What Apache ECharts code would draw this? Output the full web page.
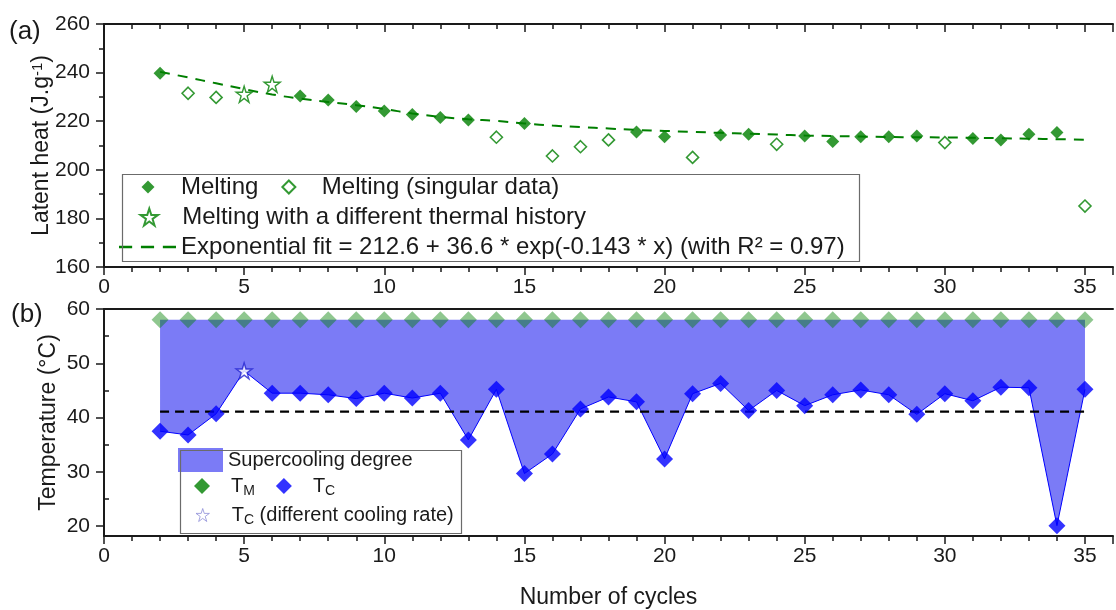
<!DOCTYPE html>
<html>
<head>
<meta charset="utf-8">
<script src="https://cdn.jsdelivr.net/npm/echarts@6/dist/echarts.min.js"></script>
<style>
  html, body { margin: 0; padding: 0; background: #fff; }
  #chart { width: 1116px; height: 610px; }
</style>
</head>
<body>
<div id="chart"></div>
<script>
// (a) latent heat
const meltX = [2, 7, 8, 9, 10, 11, 12, 13, 15, 19, 20, 22, 23, 25, 26, 27, 28, 29, 31, 32, 33, 34]
const meltY = [239.7, 230.4, 228.7, 226.0, 224.2, 222.8, 221.5, 220.5, 219.1, 215.6, 213.6, 214.3, 214.6, 213.9, 211.6, 213.6, 213.6, 213.9, 212.9, 212.3, 214.6, 215.4]
const singX = [3, 4, 14, 16, 17, 18, 21, 24, 30, 35]
const singY = [231.5, 229.8, 213.4, 205.7, 209.5, 212.3, 205.1, 210.5, 211.2, 185.1]
const thermX = [5, 6]
const thermY = [231.1, 235.2]
const fitX = [2, 3, 4, 5, 6, 7, 8, 9, 10, 11, 12, 13, 14, 15, 16, 17, 18, 19, 20, 21, 22, 23, 24, 25, 26, 27, 28, 29, 30, 31, 32, 33, 34, 35]
const fitY = [240.3, 238.0, 235.6, 233.2, 231.0, 229.3, 227.9, 226.6, 225.0, 223.2, 221.8, 220.8, 220.1, 219.1, 218.2, 217.6, 217.0, 216.4, 216.0, 215.6, 215.2, 214.9, 214.5, 214.1, 213.9, 213.7, 213.5, 213.4, 213.3, 213.2, 213.0, 212.8, 212.6, 212.4]

// (b) temperatures
const cycles = [2, 3, 4, 5, 6, 7, 8, 9, 10, 11, 12, 13, 14, 15, 16, 17, 18, 19, 20, 21, 22, 23, 24, 25, 26, 27, 28, 29, 30, 31, 32, 33, 34, 35]
const tmValues = [58, 58, 58, 58, 58, 58, 58, 58, 58, 58, 58, 58, 58, 58, 58, 58, 58, 58, 58, 58, 58, 58, 58, 58, 58, 58, 58, 58, 58, 58, 58, 58, 58, 58]
const tcValues = [37.5, 36.8, 40.7, 48.6, 44.5, 44.5, 44.2, 43.5, 44.5, 43.6, 44.5, 35.9, 45.2, 29.7, 33.3, 41.6, 43.8, 42.9, 32.4, 44.4, 46.3, 41.3, 45.0, 42.2, 44.2, 45.1, 44.2, 40.6, 44.4, 43.1, 45.6, 45.5, 20.1, 45.2]
const starCycle = 5 // T_C measured with a different cooling rate
const avgX = [2, 35]
const avgY = [41.1, 41.1]

// tick labels
const xTicks = [0, 5, 10, 15, 20, 25, 30, 35]
const tTicks = [20, 30, 40, 50, 60]
const tMinorTicks = [25, 35, 45, 55]

const green = '#007f00'
const blue = '#0000ff'
const fillBlue = '#7b7bf6'
const ink = '#1a1a1a'
const starPath = 'path://M50,2 L61,37 L98,37 L68,59 L79,95 L50,73 L21,95 L32,59 L2,37 L39,37 Z'
const diamondPath = 'path://M50,0 L100,50 L50,100 L0,50 Z'
const dashPath = 'path://M0,0 h12 v2.2 h-12 Z M20,0 h12 v2.2 h-12 Z M40,0 h12 v2.2 h-12 Z'

const pairs = (xs, ys) => xs.map((x, i) => [x, ys[i]])
const tcLine = pairs(cycles, tcValues)
const tcDiamonds = tcLine.filter(p => p[0] !== starCycle)
const tcStar = tcLine.filter(p => p[0] === starCycle)

const chart = echarts.init(document.getElementById('chart'))

const xLabel = { fontSize: 21, color: ink, margin: 10, formatter: v => (xTicks.includes(v) ? String(v) : '') }
const axisLine = { lineStyle: { color: ink, width: 2 } }
const subRich = { sub: { fontSize: 14, verticalAlign: 'bottom', padding: [10, 0, 0, 0], color: ink } }

chart.setOption({
  animation: false,
  textStyle: { fontFamily: 'Liberation Sans, Arial, sans-serif', color: ink },
  grid: [
    { left: 104, top: 24, width: 1022, height: 243 },
    { left: 104, top: 309, width: 1022, height: 230 }
  ],
  xAxis: [
    {
      gridIndex: 0, type: 'value', min: 0, max: 36, interval: 5, position: 'bottom',
      axisLine, axisTick: { length: 8, lineStyle: { color: ink, width: 1.5 } },
      minorTick: { show: true, splitNumber: 5, length: 5, lineStyle: { color: ink, width: 1.5 } },
      axisLabel: xLabel, splitLine: { show: false }
    },
    {
      gridIndex: 0, type: 'value', min: 0, max: 36, interval: 5, position: 'top',
      axisLine, axisTick: { inside: true, length: 8, lineStyle: { color: ink, width: 1.5 } },
      minorTick: { show: true, splitNumber: 5, length: 5, lineStyle: { color: ink, width: 1.5 } },
      axisLabel: { show: false }, splitLine: { show: false }
    },
    {
      gridIndex: 1, type: 'value', min: 0, max: 36, interval: 5, position: 'bottom',
      axisLine, axisTick: { length: 8, lineStyle: { color: ink, width: 1.5 } },
      minorTick: { show: true, splitNumber: 5, length: 5, lineStyle: { color: ink, width: 1.5 } },
      axisLabel: xLabel, splitLine: { show: false },
      name: 'Number of cycles', nameLocation: 'middle', nameGap: 50,
      nameTextStyle: { fontSize: 23, color: ink }
    },
    {
      gridIndex: 1, type: 'value', min: 0, max: 36, interval: 5, position: 'top',
      axisLine, axisTick: { show: false }, axisLabel: { show: false }, splitLine: { show: false }
    }
  ],
  yAxis: [
    {
      gridIndex: 0, type: 'value', min: 160, max: 260, interval: 20,
      axisLine, axisTick: { length: 8, lineStyle: { color: ink, width: 1.5 } },
      minorTick: { show: true, splitNumber: 2, length: 5, lineStyle: { color: ink, width: 1.5 } },
      axisLabel: { fontSize: 21, color: ink, margin: 14 }, splitLine: { show: false },
      name: 'Latent heat (J.g{sup|-1})', nameLocation: 'middle', nameGap: 51, nameRotate: 90, nameMoveOverlap: false,
      nameTextStyle: { fontSize: 23, color: ink, rich: { sup: { fontSize: 15, verticalAlign: 'top', color: ink } } }
    },
    {
      gridIndex: 1, type: 'value', min: 18.2, max: 60,
      axisLine, axisTick: { length: 8, customValues: tTicks, lineStyle: { color: ink, width: 1.5 } },
      axisLabel: { fontSize: 21, color: ink, margin: 14, customValues: tTicks }, splitLine: { show: false },
      name: 'Temperature (°C)', nameLocation: 'middle', nameGap: 44, nameRotate: 90, nameMoveOverlap: false,
      nameTextStyle: { fontSize: 23, color: ink }
    },
    {
      gridIndex: 1, type: 'value', min: 18.2, max: 60,
      axisLine: { show: false },
      axisTick: { length: 5, customValues: tMinorTicks, lineStyle: { color: ink, width: 1.5 } },
      axisLabel: { show: false }, splitLine: { show: false }
    }
  ],
  legend: [
    {
      left: 141.5, top: 175, padding: 0, itemGap: 23, itemWidth: 56, itemHeight: 13, selectedMode: false,
      textStyle: { fontSize: 24, color: ink },
      data: [{ name: 'Melting', icon: diamondPath }, { name: 'Melting (singular data)', icon: diamondPath }]
    },
    {
      left: 139.5, top: 205, padding: 0, itemWidth: 56, itemHeight: 17, selectedMode: false,
      textStyle: { fontSize: 24, color: ink },
      data: [{ name: 'Melting with a different thermal history', icon: starPath }]
    },
    {
      left: 119, top: 235, padding: 0, itemWidth: 57, itemHeight: 14, selectedMode: false,
      textStyle: { fontSize: 24, color: ink },
      data: [{ name: 'Exponential fit = 212.6 + 36.6 * exp(-0.143 * x) (with R² = 0.97)', icon: dashPath, itemStyle: { color: green } }]
    },
    {
      left: 178, top: 448, padding: 0, itemWidth: 45, itemHeight: 24, selectedMode: false,
      textStyle: { fontSize: 20, color: ink },
      data: [{ name: 'Supercooling degree', icon: 'rect', itemStyle: { color: fillBlue } }]
    },
    {
      left: 194, top: 476, padding: 0, itemGap: 21, itemWidth: 48, itemHeight: 16, selectedMode: false,
      textStyle: { fontSize: 20, color: ink, rich: subRich },
      formatter: n => (n === 'TM' ? 'T{sub|M}' : 'T{sub|C}'),
      data: [{ name: 'TM', icon: diamondPath, itemStyle: { color: green } }, { name: 'TC', icon: diamondPath }]
    },
    {
      left: 195.5, top: 505, padding: 0, itemWidth: 48, itemHeight: 13, selectedMode: false,
      textStyle: { fontSize: 20, color: ink, rich: subRich },
      formatter: () => 'T{sub|C} (different cooling rate)',
      data: [{ name: 'TC star', icon: starPath, itemStyle: { borderColor: '#8d8dd8', borderWidth: 1 } }]
    }
  ],
  graphic: [
    { type: 'rect', left: 120, top: 172, shape: { width: 737, height: 87 }, style: { fill: 'none', stroke: '#6b6b6b', lineWidth: 1.2 }, z: 5 },
    { type: 'rect', left: 178, top: 448, shape: { width: 281, height: 83 }, style: { fill: 'none', stroke: '#6b6b6b', lineWidth: 1.2 }, z: 5 },
    { type: 'text', left: 9, top: 19, style: { text: '(a)', fontSize: 26, fill: ink, fontFamily: 'Liberation Sans, Arial, sans-serif' } },
    { type: 'text', left: 11, top: 302, style: { text: '(b)', fontSize: 26, fill: ink, fontFamily: 'Liberation Sans, Arial, sans-serif' } }
  ],
  series: [
    // (a)
    {
      name: 'Exponential fit = 212.6 + 36.6 * exp(-0.143 * x) (with R² = 0.97)', type: 'line',
      xAxisIndex: 0, yAxisIndex: 0, data: pairs(fitX, fitY), symbol: 'none', smooth: true,
      color: green, lineStyle: { color: green, width: 2, type: [10, 8] }, z: 2
    },
    {
      name: 'Melting', type: 'scatter', xAxisIndex: 0, yAxisIndex: 0, data: pairs(meltX, meltY),
      symbol: 'diamond', symbolSize: 13, itemStyle: { color: green }, z: 3
    },
    {
      name: 'Melting (singular data)', type: 'scatter', xAxisIndex: 0, yAxisIndex: 0, data: pairs(singX, singY),
      symbol: 'diamond', symbolSize: 12, itemStyle: { color: '#fff', borderColor: green, borderWidth: 1.6 }, z: 3
    },
    {
      name: 'Melting with a different thermal history', type: 'scatter', xAxisIndex: 0, yAxisIndex: 0, data: pairs(thermX, thermY),
      symbol: starPath, symbolSize: 16, itemStyle: { color: 'rgba(255,255,255,0)', borderColor: green, borderWidth: 1.4 }, z: 3
    },
    // (b)
    {
      name: 'Supercooling degree', type: 'custom', xAxisIndex: 2, yAxisIndex: 1,
      data: cycles.map((x, i) => [x, tcValues[i], tmValues[i]]),
      encode: { x: 0, y: [1, 2] },
      itemStyle: { color: fillBlue },
      renderItem: (params, api) => {
        if (params.dataIndex !== 0) return null
        const top = cycles.map((x, i) => api.coord([x, tmValues[i]]))
        const bottom = cycles.map((x, i) => api.coord([x, tcValues[i]])).reverse()
        return { type: 'polygon', shape: { points: top.concat(bottom) }, style: { fill: fillBlue } }
      },
      z: 1
    },
    {
      name: 'TC line', type: 'line', xAxisIndex: 2, yAxisIndex: 1, data: tcLine,
      symbol: 'none', lineStyle: { color: blue, width: 1 }, z: 2
    },
    {
      name: 'Average', type: 'line', xAxisIndex: 2, yAxisIndex: 1, data: pairs(avgX, avgY),
      symbol: 'none', lineStyle: { color: '#000', width: 2.2, type: [9, 6] }, z: 3
    },
    {
      name: 'TM', type: 'scatter', xAxisIndex: 2, yAxisIndex: 1, data: pairs(cycles, tmValues),
      symbol: 'diamond', symbolSize: 17, itemStyle: { color: 'rgba(0,128,0,0.55)' }, z: 4
    },
    {
      name: 'TC', type: 'scatter', xAxisIndex: 2, yAxisIndex: 1, data: tcDiamonds,
      symbol: 'diamond', symbolSize: 17, itemStyle: { color: blue }, z: 4
    },
    {
      name: 'TC star', type: 'scatter', xAxisIndex: 2, yAxisIndex: 1, data: tcStar,
      symbol: starPath, symbolSize: 16, itemStyle: { color: '#fff', borderColor: '#2020d0', borderWidth: 1.4 }, z: 4
    }
  ]
})
</script>
</body>
</html>
